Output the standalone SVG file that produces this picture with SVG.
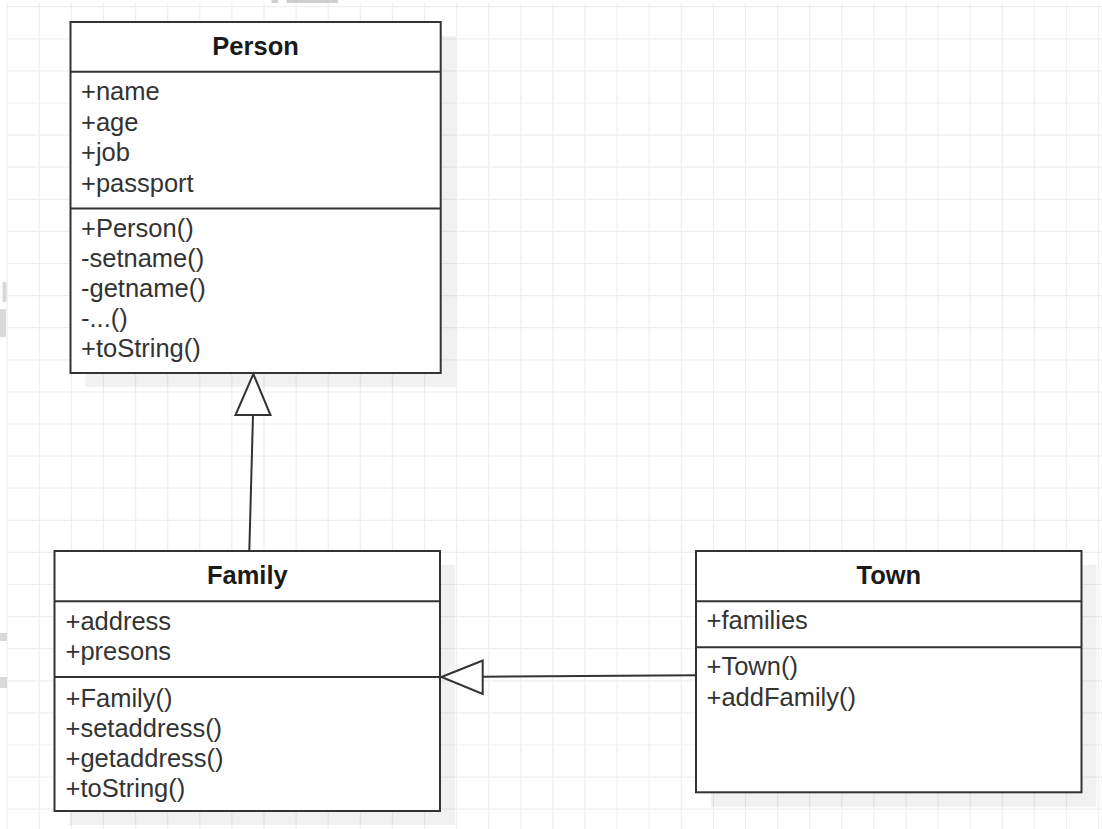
<svg xmlns="http://www.w3.org/2000/svg" width="1102" height="829" viewBox="0 0 1102 829">
<style>
.grid{stroke:#efefef;stroke-width:1.2;fill:none}
.shadow{fill:#000;fill-opacity:0.055;stroke:none}
.box{fill:#fff;stroke:#333;stroke-width:2}
.sep{stroke:#333;stroke-width:2;fill:none}
.title{font-family:"Liberation Sans",Arial,sans-serif;font-size:25.5px;font-weight:bold;fill:#1a1a1a;text-anchor:middle}
.item{font-family:"Liberation Sans",Arial,sans-serif;font-size:25.5px;fill:#333}
.edge{stroke:#333;stroke-width:2;fill:none}
.head{stroke:#333;stroke-width:2;fill:#fff;stroke-linejoin:miter}
.art{fill:#cfcfcf}
</style>
<rect x="0" y="0" width="1102" height="829" fill="#fff"/>
<g id="grid">
<path class="grid" d="M7.2 3V829M39.3 3V829M71.4 3V829M103.5 3V829M135.6 3V829M167.7 3V829M199.8 3V829M231.9 3V829M264 3V829M296.1 3V829M328.2 3V829M360.3 3V829M392.4 3V829M424.5 3V829M456.6 3V829M488.7 3V829M520.8 3V829M552.9 3V829M585 3V829M617.1 3V829M649.2 3V829M681.3 3V829M713.4 3V829M745.5 3V829M777.6 3V829M809.7 3V829M841.8 3V829M873.9 3V829M906 3V829M938.1 3V829M970.2 3V829M1002.3 3V829M1034.4 3V829M1066.5 3V829M1098.6 3V829"/>
<path class="grid" d="M7 6.7H1102M7 38.8H1102M7 70.9H1102M7 103H1102M7 135.1H1102M7 167.2H1102M7 199.3H1102M7 231.4H1102M7 263.5H1102M7 295.6H1102M7 327.7H1102M7 359.8H1102M7 391.9H1102M7 424H1102M7 456.1H1102M7 488.2H1102M7 520.3H1102M7 552.4H1102M7 584.5H1102M7 616.6H1102M7 648.7H1102M7 680.8H1102M7 712.9H1102M7 745H1102M7 777.1H1102M7 809.2H1102"/>
</g>
<g id="artifacts">
<rect class="art" x="271.5" y="0" width="6.5" height="3"/>
<rect class="art" x="286.5" y="0" width="51.5" height="3"/>
<rect class="art" x="2.5" y="282" width="4" height="20" fill-opacity="0.8"/>
<rect class="art" x="0" y="309" width="6" height="28" fill-opacity="0.8"/>
<rect class="art" x="0" y="633" width="7" height="8" fill-opacity="0.8"/>
<rect class="art" x="0" y="677" width="7" height="11" fill-opacity="0.8"/>
</g>
<g id="person">
<rect class="shadow" x="85.5" y="36" width="370.4" height="351"/>
<rect class="box" x="70.5" y="22" width="370.2" height="351"/>
<line class="sep" x1="70.5" y1="71.7" x2="440.7" y2="71.7"/>
<line class="sep" x1="70.5" y1="208.5" x2="440.7" y2="208.5"/>
<text class="title" x="255.6" y="55">Person</text>
<text class="item" x="81" y="100">+name</text>
<text class="item" x="81" y="130.5">+age</text>
<text class="item" x="81" y="161">+job</text>
<text class="item" x="81" y="191.5">+passport</text>
<text class="item" x="81" y="237">+Person()</text>
<text class="item" x="81" y="267">-setname()</text>
<text class="item" x="81" y="297">-getname()</text>
<text class="item" x="81" y="327">-...()</text>
<text class="item" x="81" y="357">+toString()</text>
</g>
<g id="family">
<rect class="shadow" x="69.5" y="565" width="385.7" height="260"/>
<rect class="box" x="54.5" y="551" width="385.5" height="260"/>
<line class="sep" x1="54.5" y1="601.3" x2="440" y2="601.3"/>
<line class="sep" x1="54.5" y1="677" x2="440" y2="677"/>
<text class="title" x="247.3" y="584.3">Family</text>
<text class="item" x="65.5" y="630">+address</text>
<text class="item" x="65.5" y="659.5">+presons</text>
<text class="item" x="65.5" y="706.7">+Family()</text>
<text class="item" x="65.5" y="736.7">+setaddress()</text>
<text class="item" x="65.5" y="766.5">+getaddress()</text>
<text class="item" x="65.5" y="796.7">+toString()</text>
</g>
<g id="town">
<rect class="shadow" x="711" y="565" width="385.5" height="241.5"/>
<rect class="box" x="696" y="551" width="385.5" height="241.3"/>
<line class="sep" x1="696" y1="601.3" x2="1081.5" y2="601.3"/>
<line class="sep" x1="696" y1="647.3" x2="1081.5" y2="647.3"/>
<text class="title" x="888.8" y="584.3">Town</text>
<text class="item" x="706.5" y="629.3">+families</text>
<text class="item" x="706.5" y="675">+Town()</text>
<text class="item" x="706.5" y="705.7">+addFamily()</text>
</g>
<g id="connectors">
<line class="edge" x1="249.3" y1="551" x2="253" y2="415"/>
<polygon class="head" points="253.3,374 270.5,415 235.5,415"/>
<line class="edge" x1="696" y1="675.3" x2="482.7" y2="676.7"/>
<polygon class="head" points="441.5,677 482.7,660.5 482.7,694"/>
</g>
</svg>
